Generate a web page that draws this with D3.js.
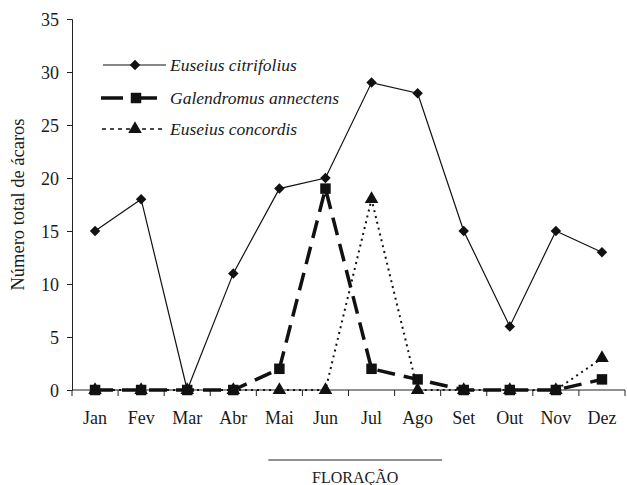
<!DOCTYPE html>
<html>
<head>
<meta charset="utf-8">
<script src="https://cdn.jsdelivr.net/npm/d3@7"></script>
<style>
  body { margin: 0; background: #fff; }
</style>
</head>
<body>
<div class="main-container"></div>
<script>
var months = ["Jan", "Fev", "Mar", "Abr", "Mai", "Jun", "Jul", "Ago", "Set", "Out", "Nov", "Dez"];
var citrifolius = [15, 18, 0, 11, 19, 20, 29, 28, 15, 6, 15, 13];
var annectens = [0, 0, 0, 0, 2, 19, 2, 1, 0, 0, 0, 1];
var concordis = [0, 0, 0, 0, 0, 0, 18, 0, 0, 0, 0, 3];
var yTicks = [0, 5, 10, 15, 20, 25, 30, 35];
var seriesNames = ["Euseius citrifolius", "Galendromus annectens", "Euseius concordis"];

var W = 627, H = 485;
var padL = 72, padR = 625, padT = 19, padB = 390;
var serif = "'Liberation Serif', 'Times New Roman', Times, serif";

var svg = d3.select(".main-container")
    .append("svg")
    .attr("width", W)
    .attr("height", H)
    .style("font-family", serif);

var x = d3.scaleBand().domain(months).range([padL, padR]);
var y = d3.scaleLinear().domain([0, 35]).range([padB, padT]);
var cx = function (m) { return x(m) + x.bandwidth() / 2; };

// y axis
var yAxis = svg.append("g")
    .attr("transform", "translate(" + padL + ",0)")
    .call(d3.axisLeft(y).tickValues(yTicks).tickSize(5).tickPadding(8));
yAxis.attr("font-family", null).attr("font-size", null);
yAxis.select(".domain").attr("stroke", "#222");
yAxis.selectAll(".tick line").attr("stroke", "#222");
yAxis.selectAll("text")
    .style("font-family", serif)
    .style("font-size", "18px")
    .attr("dy", "0.34em")
    .attr("fill", "#1a1a1a");

// x axis, ticks at band edges
var xAxis = svg.append("g")
    .attr("transform", "translate(0," + padB + ")");
xAxis.append("line")
    .attr("x1", padL).attr("x2", padR)
    .attr("stroke", "#222");
xAxis.selectAll("line.tk")
    .data(months.concat(["end"]))
    .enter()
    .append("line")
    .attr("class", "tk")
    .attr("x1", function (d, i) { return padL + i * x.step(); })
    .attr("x2", function (d, i) { return padL + i * x.step(); })
    .attr("y1", 0).attr("y2", 6)
    .attr("stroke", "#222");
xAxis.selectAll("text")
    .data(months)
    .enter()
    .append("text")
    .attr("x", cx)
    .attr("y", 34)
    .attr("text-anchor", "middle")
    .attr("fill", "#1a1a1a")
    .style("font-family", serif)
    .style("font-size", "18px")
    .text(function (d) { return d; });

// y label
svg.append("text")
    .attr("transform", "translate(24," + ((padT + padB) / 2) + ") rotate(-90)")
    .attr("text-anchor", "middle")
    .attr("fill", "#1a1a1a")
    .style("font-family", serif)
    .style("font-size", "18.5px")
    .text("Número total de ácaros");

// lines
var line = function (vals) {
    return d3.line()
        .x(function (d, i) { return cx(months[i]); })
        .y(function (d) { return y(d); })(vals);
};

svg.append("path").attr("d", line(concordis))
    .attr("fill", "none").attr("stroke", "#111")
    .attr("stroke-width", 2).attr("stroke-dasharray", "2,4");
svg.append("path").attr("d", line(annectens))
    .attr("fill", "none").attr("stroke", "#111")
    .attr("stroke-width", 3.5).attr("stroke-dasharray", "18,9");
svg.append("path").attr("d", line(citrifolius))
    .attr("fill", "none").attr("stroke", "#111")
    .attr("stroke-width", 1.2);

var diamond = d3.symbol().type(d3.symbolDiamond2).size(70);
var square = d3.symbol().type(d3.symbolSquare).size(110);
var triangle = d3.symbol().type(d3.symbolTriangle).size(80);

function markers(vals, sym) {
    svg.append("g").selectAll("path")
        .data(vals)
        .enter()
        .append("path")
        .attr("d", sym)
        .attr("transform", function (d, i) {
            return "translate(" + cx(months[i]) + "," + y(d) + ")";
        })
        .attr("fill", "#111");
}
markers(concordis, triangle);
markers(annectens, square);
markers(citrifolius, diamond);

// legend
var legY = [65, 98, 129];
var lg = svg.append("g");
lg.append("line").attr("x1", 103).attr("x2", 166).attr("y1", legY[0]).attr("y2", legY[0])
    .attr("stroke", "#111").attr("stroke-width", 1.2);
lg.append("line").attr("x1", 101).attr("x2", 166).attr("y1", legY[1]).attr("y2", legY[1])
    .attr("stroke", "#111").attr("stroke-width", 3.5).attr("stroke-dasharray", "22,12");
lg.append("line").attr("x1", 102).attr("x2", 166).attr("y1", legY[2]).attr("y2", legY[2])
    .attr("stroke", "#111").attr("stroke-width", 1.5).attr("stroke-dasharray", "4,4");
lg.append("path").attr("d", diamond).attr("transform", "translate(135," + legY[0] + ")").attr("fill", "#111");
lg.append("path").attr("d", square).attr("transform", "translate(136," + legY[1] + ")").attr("fill", "#111");
lg.append("path").attr("d", triangle).attr("transform", "translate(135," + legY[2] + ")").attr("fill", "#111");
lg.selectAll("text")
    .data(seriesNames)
    .enter()
    .append("text")
    .attr("x", 170)
    .attr("y", function (d, i) { return legY[i] + 6; })
    .attr("fill", "#1a1a1a")
    .style("font-family", serif)
    .style("font-size", "17.5px")
    .style("font-style", "italic")
    .text(function (d) { return d; });

// floração bar
var fx1 = x("Mai") + x.bandwidth() * 0.26;
var fx2 = x("Set") + x.bandwidth() * 0.03;
svg.append("line")
    .attr("x1", fx1).attr("x2", fx2)
    .attr("y1", 460).attr("y2", 460)
    .attr("stroke", "#222").attr("stroke-width", 1);
svg.append("text")
    .attr("x", (fx1 + fx2) / 2)
    .attr("y", 483)
    .attr("text-anchor", "middle")
    .attr("fill", "#1a1a1a")
    .style("font-family", serif)
    .style("font-size", "16px")
    .text("FLORAÇÃO");
</script>
</body>
</html>
